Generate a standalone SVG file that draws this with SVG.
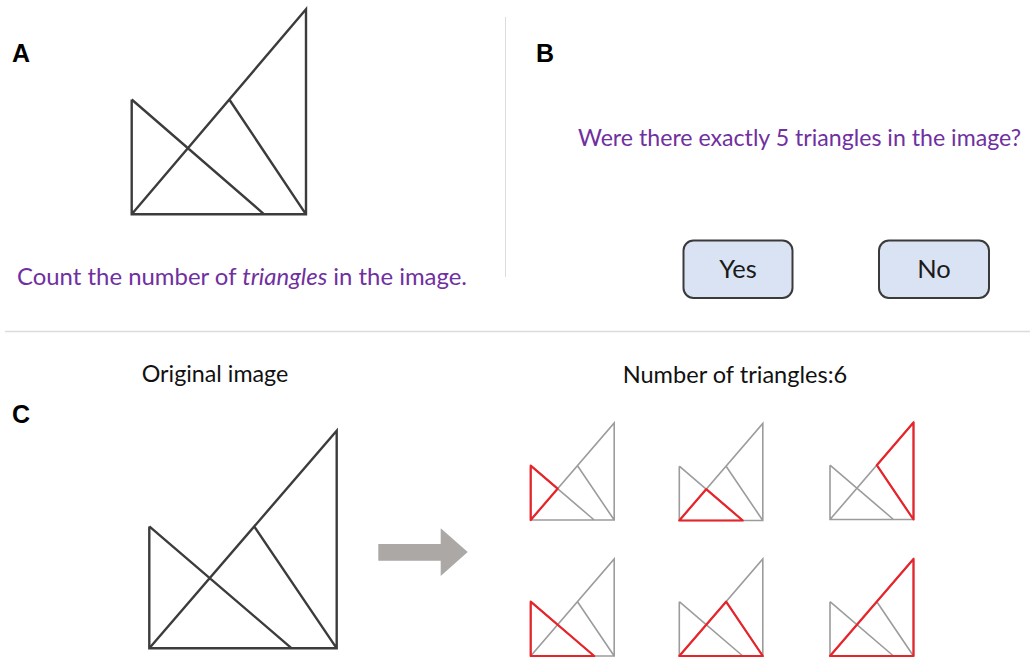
<svg xmlns="http://www.w3.org/2000/svg" xmlns:xlink="http://www.w3.org/1999/xlink" width="1030" height="658" viewBox="0 0 1030 658">
<style>
  .lbl { font-family: "Liberation Sans", Arial, sans-serif; font-weight: bold; font-size: 25px; fill: #000; }
  .prompt { font-family: Lato, "Liberation Sans", sans-serif; font-size: 24px; fill: #7030a0; }
  .cap { font-family: Lato, "Liberation Sans", sans-serif; font-size: 23.5px; fill: #111; }
  .btn { fill: #dae3f3; stroke: #3a3a3a; stroke-width: 2; }
  .btntxt { font-family: Lato, "Liberation Sans", sans-serif; font-size: 25.5px; fill: #1a1a1a; text-anchor: middle; }
  .big { fill: none; stroke: #3c3c3c; stroke-width: 2.4; stroke-linejoin: miter; }
  .small { fill: none; stroke: #9c9c9c; stroke-width: 1.6; }
  .hl { fill: none; stroke: #e8242a; stroke-width: 2.2; stroke-linejoin: round; }
  .div { stroke: #dcdcdc; fill: none; }
</style>
<defs>
  <path id="fig" class="small" d="M0,-54.3 V0 H83.5 V-97 L0,0 M0,-54.3 L63.5,0 M46.8,-54.3 L83.5,0"/>
</defs>
<rect width="1030" height="658" fill="#fff"/>

<g id="dividers">
  <line class="div" x1="505.5" y1="17" x2="505.5" y2="277" stroke-width="1"/>
  <line class="div" x1="5" y1="331.5" x2="1030" y2="331.5" stroke-width="1.5"/>
</g>

<g id="panelA">
  <text class="lbl" x="12" y="61.5">A</text>
  <path class="big" d="M131.7,99.5 V214.3 H306 V9.3 L131.7,214.3 M131.7,99.5 L264.2,214.3 M229.3,99.5 L306,214.3"/>
  <text class="prompt" x="17" y="285" textLength="450" lengthAdjust="spacingAndGlyphs">Count the number of <tspan font-style="italic">triangles</tspan> in the image.</text>
</g>

<g id="panelB">
  <text class="lbl" x="536" y="61.5">B</text>
  <text class="prompt" x="1021" y="146" text-anchor="end" font-size="23" textLength="443" lengthAdjust="spacingAndGlyphs">Were there exactly 5 triangles in the image?</text>
  <g id="btnYes">
    <rect class="btn" x="683.5" y="240.5" width="109" height="57.5" rx="10"/>
    <text class="btntxt" x="738" y="278">Yes</text>
  </g>
  <g id="btnNo">
    <rect class="btn" x="879" y="240.5" width="110" height="57.5" rx="10"/>
    <text class="btntxt" x="934" y="278">No</text>
  </g>
</g>

<g id="panelC">
  <text class="lbl" x="12" y="423">C</text>
  <text class="cap" x="141.7" y="382" textLength="146.6" lengthAdjust="spacingAndGlyphs">Original image</text>
  <text class="cap" x="622.7" y="382.5" textLength="224.6" lengthAdjust="spacingAndGlyphs">Number of triangles:6</text>
  <path class="big" d="M149.3,526.4 V648.3 H336.7 V430.7 L149.3,648.3 M149.3,526.4 L291.7,648.3 M254.2,526.4 L336.7,648.3"/>
  <g id="connectors">
    <polygon points="378.3,544 440.7,544 440.7,528.3 467.7,552 440.7,576 440.7,560.7 378.3,560.7" fill="#aba8a5"/>
  </g>
  <g id="t1" transform="translate(530.7,520)">
    <use xlink:href="#fig" href="#fig"/>
    <path class="hl" d="M0,0 V-54.3 L26.9,-31.3 Z"/>
  </g>
  <g id="t2" transform="translate(679.3,520.5)">
    <use xlink:href="#fig" href="#fig"/>
    <path class="hl" d="M0,0 H63.5 L26.9,-31.3 Z"/>
  </g>
  <g id="t3" transform="translate(830,519.5)">
    <use xlink:href="#fig" href="#fig"/>
    <path class="hl" d="M46.8,-54.3 L83.5,-97 V0 Z"/>
  </g>
  <g id="t4" transform="translate(530.7,656)">
    <use xlink:href="#fig" href="#fig"/>
    <path class="hl" d="M0,0 V-54.3 L63.5,0 Z"/>
  </g>
  <g id="t5" transform="translate(679.3,656)">
    <use xlink:href="#fig" href="#fig"/>
    <path class="hl" d="M0,0 L46.8,-54.3 L83.5,0 Z"/>
  </g>
  <g id="t6" transform="translate(830,656)">
    <use xlink:href="#fig" href="#fig"/>
    <path class="hl" d="M0,0 L83.5,-97 V0 Z"/>
  </g>
</g>
</svg>
